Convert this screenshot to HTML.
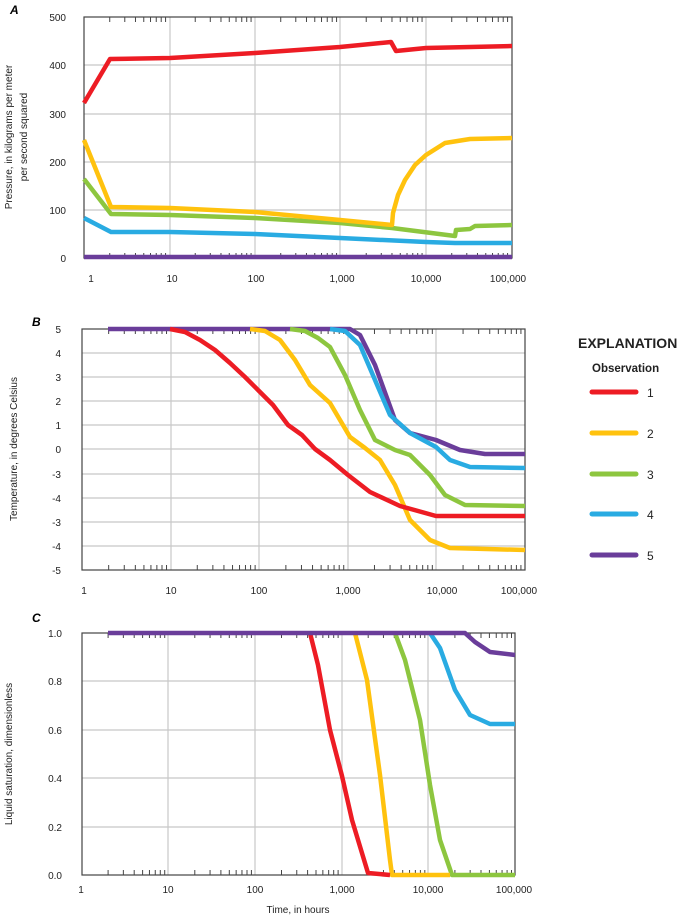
<!DOCTYPE html>
<html><head><meta charset="utf-8"><style>
body{margin:0;background:#fff}
svg{display:block;font-family:"Liberation Sans",sans-serif}
.t{font-size:10px;fill:#222}
.g{stroke:#c8c8c8;stroke-width:1.2}
.s{fill:none;stroke-width:4.5;stroke-linejoin:round;stroke-linecap:butt}
.tk line{stroke:#444;stroke-width:1;vector-effect:non-scaling-stroke}
</style></head><body>
<svg width="680" height="917" viewBox="0 0 680 917" xmlns="http://www.w3.org/2000/svg">
<defs>
<g id="dec" class="tk">
<line x1=".301" y1="0" x2=".301" y2="5"/><line x1=".477" y1="0" x2=".477" y2="5"/><line x1=".602" y1="0" x2=".602" y2="5"/><line x1=".699" y1="0" x2=".699" y2="5"/><line x1=".778" y1="0" x2=".778" y2="5"/><line x1=".845" y1="0" x2=".845" y2="5"/><line x1=".903" y1="0" x2=".903" y2="5"/><line x1=".954" y1="0" x2=".954" y2="5"/>
</g>
</defs>
<!-- Panel A -->
<text x="10" y="14" font-size="12" font-weight="bold" font-style="italic">A</text>
<g class="g">
<line x1="84" y1="210" x2="512" y2="210"/><line x1="84" y1="162" x2="512" y2="162"/><line x1="84" y1="114" x2="512" y2="114"/><line x1="84" y1="65" x2="512" y2="65"/>
<line x1="170" y1="17" x2="170" y2="258"/><line x1="255" y1="17" x2="255" y2="258"/><line x1="340" y1="17" x2="340" y2="258"/><line x1="426" y1="17" x2="426" y2="258"/>
</g>
<g transform="translate(84,17) scale(85.5,1)"><use href="#dec"/><use href="#dec" x="1"/><use href="#dec" x="2"/><use href="#dec" x="3"/><use href="#dec" x="4"/></g>
<g transform="translate(84,253) scale(85.5,1)"><use href="#dec"/><use href="#dec" x="1"/><use href="#dec" x="2"/><use href="#dec" x="3"/><use href="#dec" x="4"/></g>
<rect x="84" y="17" width="428" height="241" fill="none" stroke="#444" stroke-width="1.2"/>
<g class="t" text-anchor="end"><text x="66" y="21">500</text><text x="66" y="69">400</text><text x="66" y="118">300</text><text x="66" y="166">200</text><text x="66" y="214">100</text><text x="66" y="262">0</text></g>
<g class="t" text-anchor="middle"><text x="91" y="282">1</text><text x="172" y="282">10</text><text x="256" y="282">100</text><text x="342" y="282">1,000</text><text x="426" y="282">10,000</text><text x="508" y="282">100,000</text></g>
<text class="t" transform="translate(12,137) rotate(-90)" text-anchor="middle" font-size="11">Pressure, in kilograms per meter</text>
<text class="t" transform="translate(27,137) rotate(-90)" text-anchor="middle" font-size="11">per second squared</text>
<polyline class="s" stroke="#6a3d9a" points="84,257 512,257"/>
<polyline class="s" stroke="#29abe2" points="84,218 111,232 170,232 255,234 340,238 426,242 455,243 512,243"/>
<polyline class="s" stroke="#8dc63f" points="84,179 111,214 170,215 255,218 340,223 392,228 455,236 456,230 470,229 475,226 512,225"/>
<polyline class="s" stroke="#ffc20e" points="84,140 111,207 170,208 255,212 340,220 392,225 393,213 398,195 405,180 415,165 426,155 445,143 470,139 512,138"/>
<polyline class="s" stroke="#ed1c24" points="84,103 110,59 170,58 255,53 340,47 391,42 396,51 426,48 512,46"/>

<!-- Panel B -->
<text x="32" y="326" font-size="12" font-weight="bold" font-style="italic">B</text>
<g class="g">
<line x1="82" y1="353" x2="525" y2="353"/><line x1="82" y1="377" x2="525" y2="377"/><line x1="82" y1="401" x2="525" y2="401"/><line x1="82" y1="425" x2="525" y2="425"/><line x1="82" y1="449" x2="525" y2="449"/><line x1="82" y1="474" x2="525" y2="474"/><line x1="82" y1="498" x2="525" y2="498"/><line x1="82" y1="522" x2="525" y2="522"/><line x1="82" y1="546" x2="525" y2="546"/>
<line x1="171" y1="329" x2="171" y2="570"/><line x1="259" y1="329" x2="259" y2="570"/><line x1="348" y1="329" x2="348" y2="570"/><line x1="436" y1="329" x2="436" y2="570"/>
</g>
<g transform="translate(82,329) scale(88.6,1)"><use href="#dec"/><use href="#dec" x="1"/><use href="#dec" x="2"/><use href="#dec" x="3"/><use href="#dec" x="4"/></g>
<g transform="translate(82,565) scale(88.6,1)"><use href="#dec"/><use href="#dec" x="1"/><use href="#dec" x="2"/><use href="#dec" x="3"/><use href="#dec" x="4"/></g>
<rect x="82" y="329" width="443" height="241" fill="none" stroke="#444" stroke-width="1.2"/>
<g class="t" text-anchor="end"><text x="61" y="333">5</text><text x="61" y="357">4</text><text x="61" y="381">3</text><text x="61" y="405">2</text><text x="61" y="429">1</text><text x="61" y="453">0</text><text x="61" y="478">-3</text><text x="61" y="502">-4</text><text x="61" y="526">-3</text><text x="61" y="550">-4</text><text x="61" y="574">-5</text></g>
<g class="t" text-anchor="middle"><text x="84" y="594">1</text><text x="171" y="594">10</text><text x="259" y="594">100</text><text x="348" y="594">1,000</text><text x="442" y="594">10,000</text><text x="519" y="594">100,000</text></g>
<text class="t" transform="translate(17,449) rotate(-90)" text-anchor="middle" font-size="11">Temperature, in degrees Celsius</text>
<polyline class="s" stroke="#6a3d9a" points="108,329 350,329 360,335 375,365 395,420 410,433 436,440 460,450 485,454 525,454"/>
<polyline class="s" stroke="#29abe2" points="330,329 345,331 360,345 375,380 390,415 410,433 436,447 450,460 470,467 525,468"/>
<polyline class="s" stroke="#8dc63f" points="290,329 305,331 318,338 330,347 345,375 360,410 375,440 395,450 410,455 430,475 445,495 465,505 525,506"/>
<polyline class="s" stroke="#ffc20e" points="250,329 265,331 280,340 295,360 310,385 330,403 350,437 365,448 380,460 395,485 410,520 430,540 450,548 525,550"/>
<polyline class="s" stroke="#ed1c24" points="170,329 185,332 200,340 215,350 230,363 245,377 259,391 273,405 288,425 302,435 315,449 330,460 348,475 370,492 400,506 436,516 525,516"/>

<!-- Legend -->
<text x="578" y="348" font-size="14" font-weight="bold" fill="#222">EXPLANATION</text>
<text x="592" y="372" font-size="11.5" font-weight="bold" fill="#222">Observation</text>
<g stroke-width="5" stroke-linecap="round">
<line x1="592" y1="392" x2="636" y2="392" stroke="#ed1c24"/>
<line x1="592" y1="433" x2="636" y2="433" stroke="#ffc20e"/>
<line x1="592" y1="474" x2="636" y2="474" stroke="#8dc63f"/>
<line x1="592" y1="514" x2="636" y2="514" stroke="#29abe2"/>
<line x1="592" y1="555" x2="636" y2="555" stroke="#6a3d9a"/>
</g>
<g font-size="12" fill="#222"><text x="647" y="397">1</text><text x="647" y="438">2</text><text x="647" y="479">3</text><text x="647" y="519">4</text><text x="647" y="560">5</text></g>

<!-- Panel C -->
<text x="32" y="622" font-size="12" font-weight="bold" font-style="italic">C</text>
<g class="g">
<line x1="82" y1="681" x2="515" y2="681"/><line x1="82" y1="730" x2="515" y2="730"/><line x1="82" y1="778" x2="515" y2="778"/><line x1="82" y1="827" x2="515" y2="827"/>
<line x1="168" y1="633" x2="168" y2="875"/><line x1="255" y1="633" x2="255" y2="875"/><line x1="342" y1="633" x2="342" y2="875"/><line x1="428" y1="633" x2="428" y2="875"/>
</g>
<g transform="translate(82,633) scale(86.7,1)"><use href="#dec"/><use href="#dec" x="1"/><use href="#dec" x="2"/><use href="#dec" x="3"/><use href="#dec" x="4"/></g>
<g transform="translate(82,870) scale(86.7,1)"><use href="#dec"/><use href="#dec" x="1"/><use href="#dec" x="2"/><use href="#dec" x="3"/><use href="#dec" x="4"/></g>
<rect x="82" y="633" width="433" height="242" fill="none" stroke="#444" stroke-width="1.2"/>
<g class="t" text-anchor="end"><text x="62" y="637">1.0</text><text x="62" y="685">0.8</text><text x="62" y="734">0.6</text><text x="62" y="782">0.4</text><text x="62" y="831">0.2</text><text x="62" y="879">0.0</text></g>
<g class="t" text-anchor="middle"><text x="81" y="893">1</text><text x="168" y="893">10</text><text x="255" y="893">100</text><text x="342" y="893">1,000</text><text x="428" y="893">10,000</text><text x="514" y="893">100,000</text></g>
<text class="t" x="298" y="913" text-anchor="middle" font-size="11">Time, in hours</text>
<text class="t" transform="translate(12,754) rotate(-90)" text-anchor="middle" font-size="11">Liquid saturation, dimensionless</text>
<polyline class="s" stroke="#8dc63f" points="395,633 405,660 420,720 430,785 440,840 452,875 515,875"/>
<polyline class="s" stroke="#ffc20e" points="355,633 367,680 380,775 390,860 392,875 450,875"/>
<polyline class="s" stroke="#ed1c24" points="310,633 318,665 330,730 342,776 352,820 368,873 390,875"/>
<polyline class="s" stroke="#29abe2" points="430,633 440,648 455,690 470,715 490,724 515,724"/>
<polyline class="s" stroke="#6a3d9a" points="108,633 465,633 475,642 490,652 515,655"/>
</svg>
</body></html>
